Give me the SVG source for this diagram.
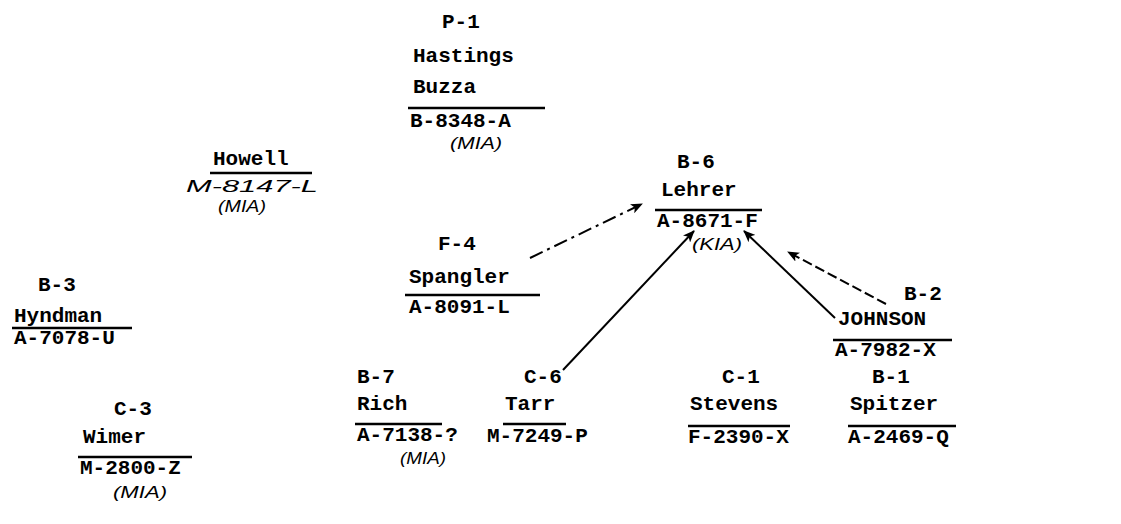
<svg xmlns="http://www.w3.org/2000/svg" width="1121" height="524" viewBox="0 0 1121 524">
<style>
.t{font-family:"Liberation Mono","DejaVu Sans Mono",monospace;font-weight:bold;font-size:21px;fill:#000}
.h{font-family:"Liberation Sans","DejaVu Sans",sans-serif;font-style:italic;font-size:16px;fill:#000}
.u{stroke:#000;stroke-width:2.5}
.c{stroke:#000;stroke-width:2;fill:none}
</style>
<defs>
<marker id="ah" viewBox="0 0 12 10" refX="11" refY="5" markerWidth="12" markerHeight="10" markerUnits="userSpaceOnUse" orient="auto">
<path d="M0,0 L12,5 L0,10 L3,5 Z" fill="#000"/>
</marker>
</defs>
<rect width="1121" height="524" fill="#fff"/>
<g id="connectors">
<line class="c" x1="530" y1="258" x2="642" y2="204" stroke-dasharray="14,5,3,5" marker-end="url(#ah)"/>
<line class="c" x1="563" y1="370" x2="694" y2="231" marker-end="url(#ah)"/>
<line class="c" x1="835" y1="318" x2="744" y2="231" marker-end="url(#ah)"/>
<line class="c" x1="886" y1="304" x2="788" y2="252" stroke-dasharray="10,4" marker-end="url(#ah)"/>
</g>
<g id="P-1">
<text class="t" x="442" y="28">P-1</text>
<text class="t" x="413" y="62">Hastings</text>
<text class="t" x="413" y="93">Buzza</text>
<line class="u" x1="408" y1="108" x2="545" y2="108"/>
<text class="t" x="410" y="127">B-8348-A</text>
<text class="h" x="450" y="149" textLength="52" lengthAdjust="spacingAndGlyphs">(MIA)</text>
</g>
<g id="Howell">
<text class="t" x="213" y="165">Howell</text>
<line class="u" x1="210" y1="173" x2="312" y2="173"/>
<text class="h" x="186" y="192" textLength="132" lengthAdjust="spacingAndGlyphs">M-8147-L</text>
<text class="h" x="218" y="212" textLength="48" lengthAdjust="spacingAndGlyphs">(MIA)</text>
</g>
<g id="B-6">
<text class="t" x="677" y="168">B-6</text>
<text class="t" x="661" y="196">Lehrer</text>
<line class="u" x1="655" y1="210" x2="762" y2="210"/>
<text class="t" x="657" y="227">A-8671-F</text>
<text class="h" x="692" y="250" textLength="50" lengthAdjust="spacingAndGlyphs">(KIA)</text>
</g>
<g id="F-4">
<text class="t" x="438" y="250">F-4</text>
<text class="t" x="409" y="283">Spangler</text>
<line class="u" x1="405" y1="295" x2="540" y2="295"/>
<text class="t" x="409" y="313">A-8091-L</text>
</g>
<g id="B-3">
<text class="t" x="38" y="291">B-3</text>
<text class="t" x="14" y="322">Hyndman</text>
<line class="u" x1="12" y1="328" x2="132" y2="328"/>
<text class="t" x="14" y="344">A-7078-U</text>
</g>
<g id="B-7">
<text class="t" x="357" y="383">B-7</text>
<text class="t" x="357" y="410">Rich</text>
<line class="u" x1="355" y1="424" x2="442" y2="424"/>
<text class="t" x="357" y="441">A-7138-?</text>
<text class="h" x="400" y="464" textLength="46" lengthAdjust="spacingAndGlyphs">(MIA)</text>
</g>
<g id="C-6">
<text class="t" x="524" y="383">C-6</text>
<text class="t" x="505" y="410">Tarr</text>
<line class="u" x1="503" y1="424" x2="566" y2="424"/>
<text class="t" x="487" y="442">M-7249-P</text>
</g>
<g id="C-1">
<text class="t" x="722" y="383">C-1</text>
<text class="t" x="690" y="410">Stevens</text>
<line class="u" x1="688" y1="426" x2="790" y2="426"/>
<text class="t" x="688" y="443">F-2390-X</text>
</g>
<g id="B-2">
<text class="t" x="904" y="300">B-2</text>
<text class="t" x="838" y="325">JOHNSON</text>
<line class="u" x1="833" y1="340" x2="952" y2="340"/>
<text class="t" x="835" y="356">A-7982-X</text>
</g>
<g id="B-1">
<text class="t" x="872" y="383">B-1</text>
<text class="t" x="850" y="410">Spitzer</text>
<line class="u" x1="848" y1="426" x2="956" y2="426"/>
<text class="t" x="848" y="443">A-2469-Q</text>
</g>
<g id="C-3">
<text class="t" x="114" y="415">C-3</text>
<text class="t" x="83" y="443">Wimer</text>
<line class="u" x1="78" y1="457" x2="192" y2="457"/>
<text class="t" x="80" y="474">M-2800-Z</text>
<text class="h" x="113" y="498" textLength="54" lengthAdjust="spacingAndGlyphs">(MIA)</text>
</g>
</svg>
